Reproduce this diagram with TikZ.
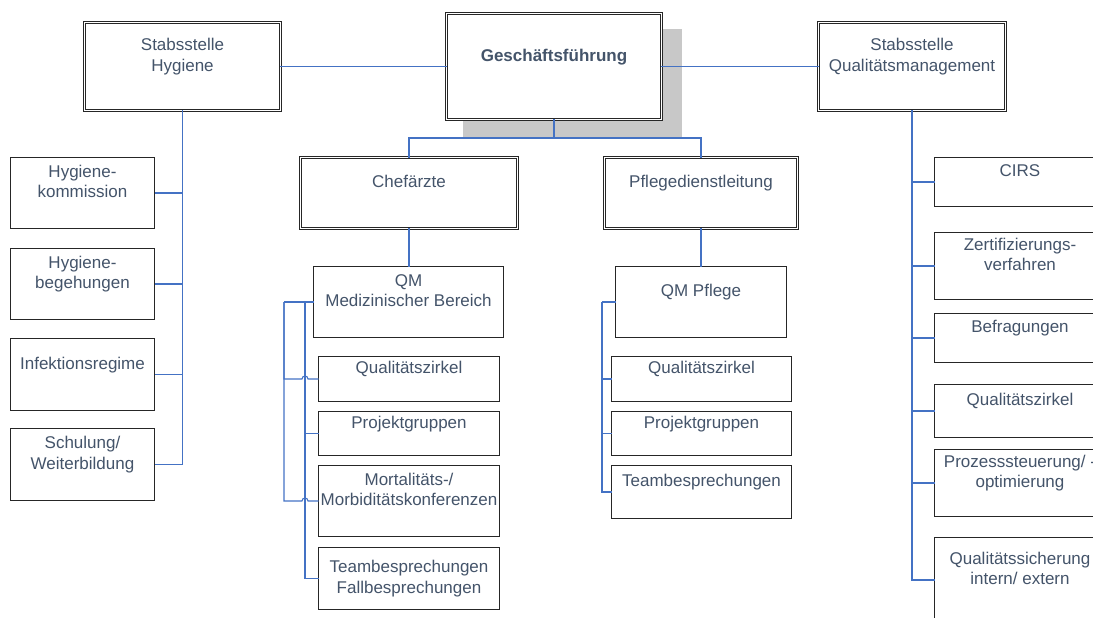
\documentclass[tikz,border=0pt]{standalone}
\usepackage{fontspec}
\setmainfont{Liberation Sans}
\usetikzlibrary{calc}
\definecolor{textgray}{HTML}{44546A}
\definecolor{linkblue}{HTML}{4472C4}
\definecolor{shadowgray}{HTML}{C8C8C8}
\newcommand{\orgfont}{\fontsize{17pt}{20.5pt}\selectfont}
\tikzset{
    box/.style={draw=black!85, fill=white, line width=1pt, inner sep=0pt, outer sep=0pt,
        align=center, text=textgray, font=\orgfont, text depth=23pt},
    headbox/.style={box, double=white, double distance=1.4pt},
    link/.style={draw=linkblue, line width=1.1pt}
}
\begin{document}
\begin{tikzpicture}[x=1pt,y=-1pt]
    \useasboundingbox (0,0) rectangle (1093,618);
    \clip (0,0) rectangle (1093,618);
    \fill[shadowgray] (463,29) rectangle (682,138);
    \node[headbox, minimum width=214.6pt, minimum height=105.6pt, font=\orgfont\bfseries] (gf) at (554,66.5) {Geschäftsführung};
    \node[headbox, minimum width=195.6pt, minimum height=87.6pt] (hyg) at (182.5,66.5) {Stabsstelle\\Hygiene};
    \node[headbox, minimum width=186.6pt, minimum height=87.6pt] (qm) at (912,66.5) {Stabsstelle\\Qualitätsmanagement};
    \node[headbox, minimum width=216.6pt, minimum height=70.6pt] (cha) at (409,193) {Chefärzte};
    \node[headbox, minimum width=192.6pt, minimum height=70.6pt] (pdl) at (701,193) {Pflegedienstleitung};
    % Hygiene
    \node[box, minimum width=144pt, minimum height=71pt] (hk) at (82.5,193) {Hygiene-\\kommission};
    \node[box, minimum width=144pt, minimum height=71pt] (hb) at (82.5,284) {Hygiene-\\begehungen};
    \node[box, minimum width=144pt, minimum height=72pt] (ir) at (82.5,374.5) {Infektionsregime};
    \node[box, minimum width=144pt, minimum height=72pt] (sw) at (82.5,464.5) {Schulung/\\Weiterbildung};
    % Chefaerzte
    \node[box, minimum width=190pt, minimum height=71pt] (qmm) at (408.5,302) {QM\\Medizinischer Bereich};
    \node[box, minimum width=181pt, minimum height=45pt] (mqz) at (409,379) {Qualitätszirkel};
    \node[box, minimum width=181pt, minimum height=44pt] (mpg) at (409,433.5) {Projektgruppen};
    \node[box, minimum width=181pt, minimum height=71pt] (mmk) at (409,501) {Mortalitäts-/\\Morbiditätskonferenzen};
    \node[box, minimum width=181pt, minimum height=62pt, text depth=] (mtb) at (409,578.5) {Teambesprechungen\\Fallbesprechungen};
    % Pflege
    \node[box, minimum width=171pt, minimum height=71pt] (qmp) at (701,302) {QM Pflege};
    \node[box, minimum width=180pt, minimum height=45pt] (pqz) at (701.5,379) {Qualitätszirkel};
    \node[box, minimum width=180pt, minimum height=44pt] (ppg) at (701.5,433.5) {Projektgruppen};
    \node[box, minimum width=180pt, minimum height=53pt] (ptb) at (701.5,492) {Teambesprechungen};
    % Qualitaetsmanagement
    \node[box, minimum width=171pt, minimum height=49pt] (cirs) at (1020,182) {CIRS};
    \node[box, minimum width=171pt, minimum height=67pt] (zv) at (1020,266) {Zertifizierungs-\\verfahren};
    \node[box, minimum width=171pt, minimum height=49pt] (bf) at (1020,338) {Befragungen};
    \node[box, minimum width=171pt, minimum height=53pt] (rqz) at (1020,411) {Qualitätszirkel};
    \node[box, minimum width=171pt, minimum height=67pt] (ps) at (1020,483) {Prozesssteuerung/ -\\optimierung};
    \node[box, minimum width=171pt, minimum height=85pt] (qs) at (1020,580) {Qualitätssicherung\\intern/ extern};
    \coordinate (gfbus) at (554,138);
    \coordinate (mbusa) at (305,302);
    \coordinate (mbusb) at (284,302);
    \coordinate (pbus) at (602,302);
    \draw[link] (hyg.east) -- (gf.west);
    \draw[link] (gf.east) -- (qm.west);
    \draw[link] (gf.south) -- (gfbus) -| (cha.north);
    \draw[link] (gfbus) -| (pdl.north);
    \draw[link] (cha.south) -- (cha.south |- qmm.north);
    \draw[link] (pdl.south) -- (qmp.north);
    \foreach \n in {hk,hb,ir,sw}
        \draw[link] (hyg.south) |- (\n.east);
    \foreach \n in {cirs,zv,bf,rqz,ps,qs}
        \draw[link] (qm.south) |- (\n.west);
    \draw[link] (qmp.west) -- (pbus);
    \foreach \n in {pqz,ppg,ptb}
        \draw[link] (pbus) |- (\n.west);
    \draw[link] (qmm.west) -- (mbusb);
    \foreach \n in {mpg,mtb}
        \draw[link] (mbusa) |- (\n.west);
    \foreach \n in {mqz,mmk}
        \draw[link] (mbusb) |- ($(mbusa |- \n.west)+(-3,0)$) arc[start angle=180, end angle=360, radius=3] -- (\n.west);
\end{tikzpicture}
\end{document}
